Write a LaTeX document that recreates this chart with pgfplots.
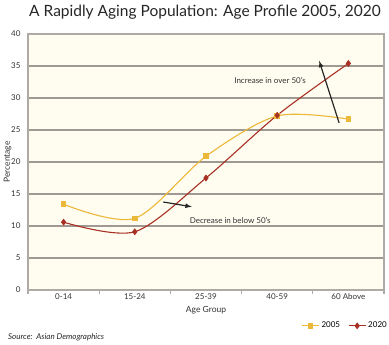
\documentclass[border=0pt]{standalone}
\usepackage{pgfplots}
\pgfplotsset{compat=1.18}
\usepackage{fontspec}
\setmainfont{Lato}
\definecolor{bgc}{RGB}{255,253,240}
\definecolor{gridc}{RGB}{160,152,146}
\definecolor{axc}{RGB}{175,170,165}
\definecolor{gold}{RGB}{236,184,58}
\definecolor{dred}{RGB}{168,48,36}
\begin{document}
\begin{tikzpicture}[x=1pt,y=1pt]
\path[use as bounding box] (0,0) rectangle (389,345);
\begin{axis}[
  at={(28pt,55pt)}, anchor=south west,
  scale only axis, width=356pt, height=256pt,
  xmin=-0.5, xmax=4.5, ymin=0, ymax=40,
  axis background/.style={fill=bgc},
  axis line style={draw=axc, line width=1.6pt},
  xtick={-0.5,0.5,1.5,2.5,3.5,4.5},
  xticklabels={},
  extra x ticks={0,1,2,3,4},
  extra x tick labels={0-14,15-24,25-39,40-59,60 Above},
  extra x tick style={major tick length=0pt, grid=none},
  x tick style={draw=axc, line width=1.2pt},
  major tick length=4pt,
  tick align=outside,
  xtick pos=bottom,
  ytick={0,5,...,40},
  ytick pos=left,
  y tick style={draw=none},
  ymajorgrids,
  grid style={draw=gridc, line width=1.1pt},
  tick label style={font=\fontsize{8}{9}\selectfont, text=black!80},
  /pgf/number format/assume math mode=true,
  xlabel={Age Group}, ylabel={Percentage},
  label style={font=\fontsize{8.5}{10}\selectfont, text=black!80},
  xlabel style={yshift=4pt},
  ylabel style={yshift=-7pt},
  legend style={at={(1,0)}, anchor=north east, yshift=-28pt, xshift=8pt,
    draw=none, fill=none, legend columns=2, font=\fontsize{8}{9}\selectfont,
    /tikz/every even column/.append style={column sep=6pt}},
  legend image post style={sharp plot},
  clip=false,
]
\addplot[color=gold, line width=1.1pt, smooth, tension=0.5, mark=square*, mark size=2.2pt, mark options={solid, fill=gold}]
  coordinates {(0,13.4) (1,11.2) (2,20.9) (3,27.2) (4,26.7)};
\addlegendentry{2005}
\addplot[color=dred, line width=1.1pt, smooth, tension=0.5, mark=diamond*, mark size=2.6pt, mark options={solid, fill=dred}]
  coordinates {(0,10.6) (1,9.1) (2,17.5) (3,27.3) (4,35.4)};
\addlegendentry{2020}
\draw[-latex, line width=1.2pt, black!85] (axis cs:3.87,26.1) -- (axis cs:3.59,35.8);
\draw[-latex, line width=1.2pt, black!85] (axis cs:1.40,13.75) -- (axis cs:1.80,13.0);
\node[font=\fontsize{8}{9}\selectfont, text=black!80] at (axis cs:2.90,32.7) {Increase in over 50's};
\node[font=\fontsize{8}{9}\selectfont, text=black!80] at (axis cs:2.34,10.9) {Decrease in below 50's};
\end{axis}
\node[anchor=center, font=\fontsize{15.5}{17}\selectfont, text=black!85] at (205,333) {A Rapidly Aging Population: Age Profile 2005, 2020};
\node[anchor=west, font=\fontsize{8}{9}\itshape, text=black!85, inner sep=0pt] at (8,8) {Source:\ \ Asian Demographics};
\end{tikzpicture}
\end{document}
